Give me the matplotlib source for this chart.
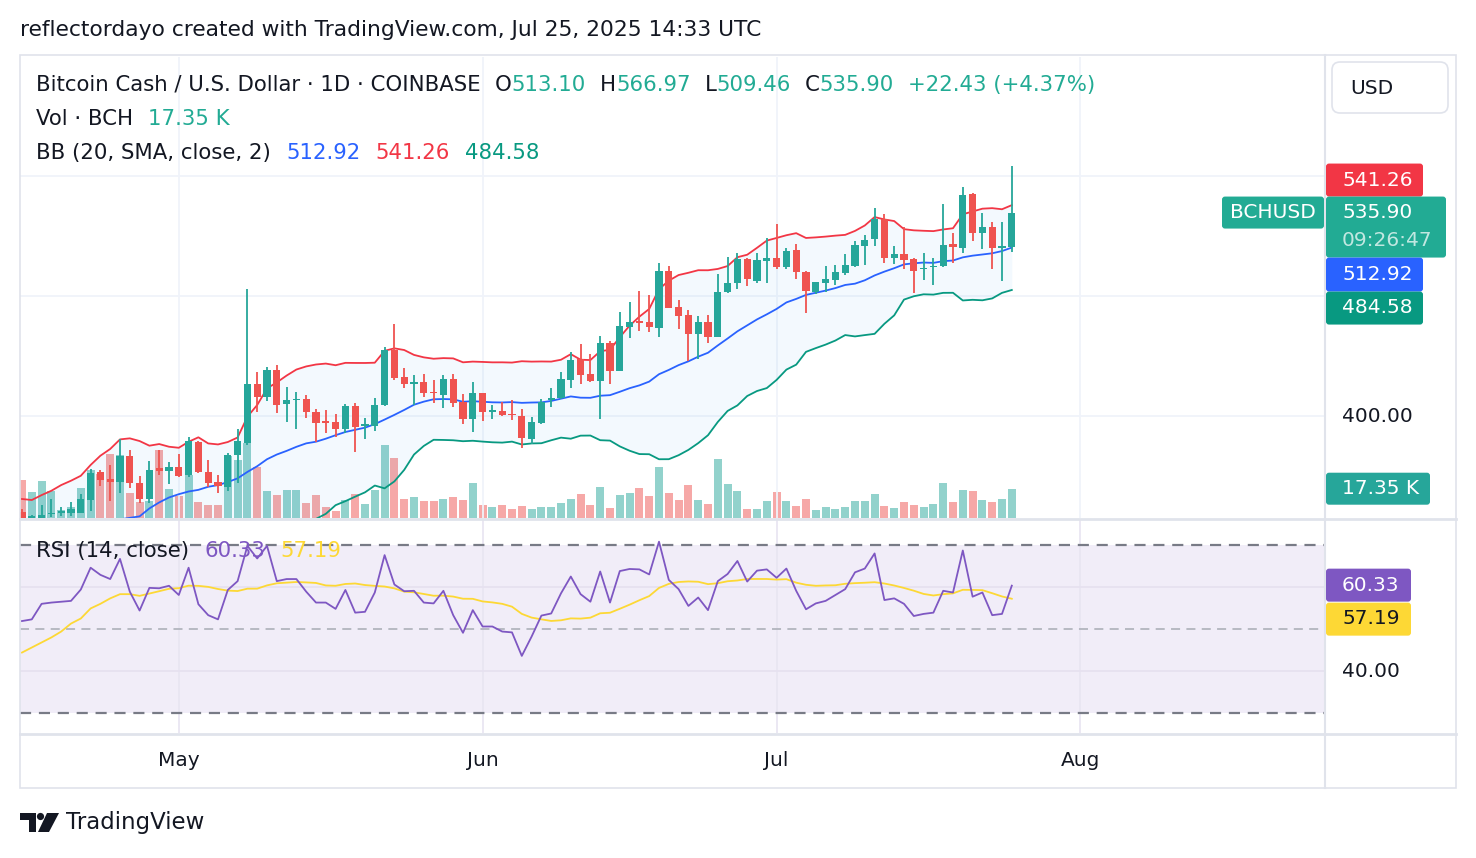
import matplotlib
matplotlib.use("Agg")
import matplotlib.pyplot as plt
from matplotlib.patches import FancyBboxPatch, Polygon, Circle
from matplotlib.colors import to_rgba
import numpy as np
import pandas as pd

W, H = 1476, 858

# ---- data (BCHUSD daily, Coinbase) ----
start = "2025-04-15"
opens = [336.0, 330.0, 332.0, 334.3, 335.0, 335.4, 335.4, 343.9, 362.4, 357.7,
         356.1, 373.3, 355.4, 344.8, 365.0, 363.5, 365.7, 360.6, 382.5, 362.4,
         356.1, 352.8, 373.9, 382.2, 421.4, 412.9, 430.7, 407.8, 410.7, 411.4,
         402.4, 396.7, 395.8, 391.5, 406.7, 393.6, 393.6, 407.3, 444.1, 426.1,
         421.4, 422.9, 416.2, 414.0, 424.5, 409.6, 398.2, 415.1, 403.0, 403.6,
         401.3, 400.0, 384.4, 395.5, 410.7, 411.8, 424.0, 438.1, 428.1, 423.6,
         449.0, 430.3, 459.7, 463.5, 463.0, 458.6, 496.9, 473.0, 467.5, 454.6,
         462.6, 453.0, 482.6, 488.6, 504.9, 490.4, 503.7, 505.3, 499.7, 510.6,
         496.0, 483.0, 489.0, 490.8, 495.7, 500.2, 513.8, 518.0, 531.6, 505.7,
         508.2, 504.9, 497.9, 499.3, 500.2, 515.0, 512.4, 548.3, 522.4, 526.0,
         512.0, 513.10]
highs = [338.0, 334.0, 340.5, 344.3, 339.4, 342.3, 347.6, 364.6, 363.9, 367.3,
         384.4, 377.3, 359.9, 369.9, 377.3, 369.0, 374.6, 386.2, 383.3, 370.6,
         360.6, 375.1, 391.1, 484.8, 429.4, 432.5, 434.1, 419.2, 415.8, 413.8,
         404.5, 404.0, 401.3, 407.8, 408.5, 398.4, 411.8, 445.9, 461.5, 431.8,
         427.4, 428.1, 424.0, 427.4, 428.1, 414.7, 422.9, 415.5, 407.3, 409.1,
         410.7, 404.5, 399.1, 411.1, 418.9, 429.6, 442.5, 447.9, 441.2, 453.7,
         450.1, 469.3, 476.0, 483.5, 480.8, 502.0, 500.2, 477.5, 470.8, 467.0,
         467.5, 494.6, 506.4, 509.1, 505.3, 508.7, 519.1, 528.0, 512.0, 514.7,
         496.9, 489.5, 500.2, 500.9, 508.2, 516.9, 520.9, 539.2, 534.9, 513.6,
         526.5, 505.7, 508.7, 505.7, 541.6, 522.0, 552.8, 548.8, 535.8, 529.4,
         529.8, 566.97]
lows = [328.0, 326.0, 331.0, 332.5, 333.0, 333.0, 335.0, 336.7, 353.2, 343.4,
        348.3, 352.0, 341.6, 341.6, 360.6, 354.6, 359.5, 359.0, 362.0, 352.8,
        348.8, 349.9, 355.5, 380.6, 402.9, 410.2, 402.2, 396.2, 391.5, 398.9,
        382.9, 388.4, 386.2, 388.9, 376.2, 384.4, 390.2, 407.0, 424.0, 418.9,
        407.3, 412.9, 408.5, 405.1, 405.8, 394.4, 389.5, 396.9, 397.8, 400.0,
        397.3, 378.4, 381.1, 394.4, 406.2, 411.5, 418.5, 421.2, 423.0, 397.8,
        421.2, 430.0, 451.9, 457.0, 456.3, 453.0, 472.0, 457.9, 436.7, 437.9,
        449.0, 452.5, 482.0, 484.6, 486.8, 489.0, 489.0, 498.2, 498.2, 491.3,
        469.0, 481.3, 483.0, 487.5, 494.2, 499.7, 500.9, 513.6, 502.4, 501.5,
        498.0, 482.4, 490.8, 487.5, 499.3, 502.0, 509.1, 517.1, 511.4, 498.2,
        490.4, 509.46]
closes = [331.0, 333.0, 334.0, 335.4, 336.7, 337.6, 344.3, 362.1, 357.2, 356.1,
          373.3, 355.0, 344.8, 363.9, 363.5, 366.1, 360.1, 383.3, 362.4, 355.4,
          353.2, 373.9, 383.3, 421.4, 412.9, 430.7, 407.3, 410.7, 411.4, 402.4,
          395.5, 395.1, 391.5, 406.7, 392.9, 394.7, 407.3, 444.1, 425.2, 421.2,
          422.9, 415.1, 415.1, 424.5, 408.9, 398.2, 415.1, 402.9, 404.0, 400.4,
          400.4, 385.1, 395.8, 409.1, 411.8, 424.7, 437.4, 427.4, 423.6, 449.0,
          430.3, 460.3, 463.0, 462.3, 459.2, 496.9, 472.4, 467.0, 454.6, 462.6,
          453.0, 482.6, 488.6, 504.9, 491.3, 504.2, 505.3, 499.7, 510.4, 496.0,
          483.7, 489.3, 491.5, 496.0, 500.9, 514.2, 517.6, 531.6, 505.7, 508.2,
          504.2, 497.1, 498.7, 500.4, 514.2, 512.7, 547.6, 522.4, 526.0, 512.0,
          513.47, 535.90]
volumes_k = [22.3, 15.2, 21.7, 15.8, 4.5, 6.3, 17.8, 28.2, 26.2, 37.9,
             37.5, 14.8, 9.5, 10.3, 40.1, 17.2, 12.8, 25.6, 9.5, 7.5,
             7.5, 36.5, 34.1, 44.4, 30.0, 15.8, 13.4, 16.4, 16.4, 8.9,
             13.4, 6.3, 3.9, 10.9, 14.4, 8.3, 16.4, 43.0, 35.5, 11.2,
             12.2, 9.9, 9.9, 11.2, 12.2, 10.5, 20.7, 7.5, 6.3, 7.5,
             5.1, 6.9, 5.1, 6.3, 6.3, 8.9, 11.4, 14.4, 7.5, 18.2,
             5.9, 13.4, 14.8, 17.8, 12.8, 30.0, 14.8, 10.5, 19.3, 10.5,
             8.3, 34.9, 20.1, 15.8, 5.3, 5.3, 9.9, 15.2, 9.9, 7.1,
             11.4, 4.7, 6.5, 5.5, 6.5, 10.1, 10.1, 14.4, 7.1, 5.9,
             9.5, 7.7, 6.5, 8.5, 20.9, 9.5, 16.6, 16.0, 10.7, 9.5,
             11.2, 17.35]
rsi = [51.9, 52.3, 56.0, 56.3, 56.5, 56.7, 59.4, 64.6, 62.9, 61.9,
       66.7, 58.9, 54.4, 59.8, 59.7, 60.3, 58.1, 64.6, 55.9, 53.3,
       52.3, 59.3, 61.4, 69.8, 66.8, 69.8, 61.4, 61.9, 61.9, 58.9,
       56.3, 56.3, 54.8, 59.3, 53.9, 54.1, 58.7, 67.6, 60.6, 59.0,
       59.1, 56.3, 56.1, 59.1, 53.3, 49.1, 54.5, 50.6, 50.6, 49.4,
       49.2, 43.6, 48.2, 53.2, 53.7, 58.5, 62.5, 58.3, 56.5, 63.7,
       56.3, 63.8, 64.3, 64.2, 63.0, 70.8, 61.7, 59.5, 55.5, 57.5,
       54.5, 61.4, 63.1, 66.2, 61.3, 63.9, 64.2, 62.2, 64.4, 59.1,
       54.7, 56.1, 56.7, 58.1, 59.5, 63.5, 64.4, 68.0, 56.9, 57.3,
       56.0, 53.1, 53.6, 53.9, 59.1, 58.7, 68.7, 57.7, 58.7, 53.3,
       53.6, 60.33]
# indicator values on the left edge (their look-back lies before the first bar)
rsi_ma_head = [44.4, 45.6, 46.8, 48.0, 49.4, 51.3, 52.5, 54.9, 56.0, 57.3, 58.3, 58.3, 57.9]
bb_upper_head = [344.6, 343.9, 347.2, 350.1, 353.9, 356.8, 360.1, 367.3, 373.5, 378.0,
                 384.4, 385.1, 383.3, 380.2, 381.3, 379.5, 378.8, 382.8, 385.8]
bb_mid_head = [318.0, 319.0, 320.0, 321.0, 322.0, 323.0, 324.0, 326.0, 328.0, 329.0,
               331.0, 332.0, 333.0, 338.3, 342.3, 345.6, 347.8, 349.6, 350.7]
# legend readouts
bb_last = {"basis": 512.92, "upper": 541.26, "lower": 484.58}
rsi_ma_last = 57.19
countdown = "09:26:47"
price_ticks = [400, 480, 560]
rsi_ticks = [40, 60]

UP, DOWN = "#26a69a", "#ef5350"
TEAL_TXT = "#22ab94"
BLACK = "#131722"
GRID = "#f0f3fa"
SEP = "#e0e3eb"

plt.rcParams["font.family"] = ["DejaVu Sans"]

n = len(closes)
x = np.arange(n)
o, hi, lo, c = (np.array(v) for v in (opens, highs, lows, closes))
cs = pd.Series(closes)
mid = cs.rolling(20).mean().to_numpy()
sd = cs.rolling(20).std(ddof=0).to_numpy()
upper = mid + 2 * sd
lower = mid - 2 * sd
k = len(bb_mid_head)
mid[:k] = bb_mid_head
upper[:k] = bb_upper_head
lower[:k] = 2 * np.array(bb_mid_head) - np.array(bb_upper_head)
rsi_ma = pd.Series(rsi).rolling(14).mean().to_numpy()
rsi_ma[:len(rsi_ma_head)] = rsi_ma_head

dates = pd.date_range(start, periods=n, freq="D")
months = pd.date_range("2025-05-01", "2025-08-01", freq="MS")
month_pos = [(m - dates[0]).days for m in months]


def frac(x0, y0, x1, y1):
    return [x0 / W, 1 - y1 / H, (x1 - x0) / W, (y1 - y0) / H]


fig = plt.figure(figsize=(W / 100, H / 100), dpi=100)
fig.patch.set_facecolor("white")

ax = fig.add_axes(frac(20, 57, 1325, 518))
axv = ax.twinx()
axr = fig.add_axes(frac(20, 519, 1325, 733))
ax.set_zorder(2)
axv.set_zorder(1)
ax.patch.set_visible(False)

xl = (-2 / 9.8, (1325 - 22) / 9.8)
for a in (ax, axv, axr):
    a.set_xlim(*xl)
    for s in a.spines.values():
        s.set_visible(False)
    a.set_xticks([])
    a.set_yticks([])

ax.set_ylim(331.9, 639.8)
axv.set_ylim(0, 273)
axr.set_ylim(25.24, 76.2)

# grid
for p in price_ticks:
    ax.axhline(p, color=GRID, lw=1.3, zorder=0)
for m in month_pos:
    ax.axvline(m, color=GRID, lw=1.3, zorder=0)
    axr.axvline(m, color="#e9e6f2", lw=1.3, zorder=1)

# volume
vcol = [to_rgba(UP if cc >= oo else DOWN, 0.5) for oo, cc in zip(opens, closes)]
axv.bar(x, volumes_k, width=0.82, color=vcol, linewidth=0)

# bollinger bands
ax.fill_between(x, lower, upper, color="#2196f3", alpha=0.05, lw=0, zorder=1)
ax.plot(x, upper, color="#f23645", lw=1.3, zorder=3)
ax.plot(x, mid, color="#2962ff", lw=1.3, zorder=3)
ax.plot(x, lower, color="#089981", lw=1.3, zorder=3)

# candles
col = np.where(c >= o, UP, DOWN)
ax.vlines(x, lo, hi, colors=col, lw=1.3, zorder=4)
ax.bar(x, np.maximum(np.abs(c - o), 1.0), bottom=np.minimum(o, c), width=0.72,
       color=col, linewidth=0, zorder=5)

# rsi pane
axr.axhspan(30, 70, color="#7e57c2", alpha=0.1, lw=0, zorder=0)
for t in rsi_ticks:
    axr.axhline(t, color="#e6e1f0", lw=1.3, zorder=1)
axr.axhline(70, color="#787b86", lw=1.6, ls=(0, (5, 3.5)), zorder=2)
axr.axhline(30, color="#787b86", lw=1.6, ls=(0, (5, 3.5)), zorder=2)
axr.axhline(50, color="#b2b5be", lw=1.3, ls=(0, (5, 3.5)), zorder=2)
axr.plot(x, rsi_ma, color="#fdd835", lw=1.3, zorder=3)
axr.plot(x, rsi, color="#7e57c2", lw=1.3, zorder=4)

# overlay in pixel coordinates, drawn above every pane
ov = fig.add_axes([0, 0, 1, 1])
ov.set_zorder(10)
ov.set_xlim(0, W)
ov.set_ylim(H, 0)
ov.axis("off")


def py(a, v):
    return H - a.transData.transform((0, v))[1]


def pxx(a, v):
    return a.transData.transform((v, 0))[0]


def tag(x0, x1, y0, y1, face, edge=None, r=3):
    ov.add_patch(FancyBboxPatch((x0, y0), x1 - x0, y1 - y0,
                                boxstyle=f"round,pad=0,rounding_size={r}",
                                fc=face, ec=edge if edge else face,
                                lw=1.2 if edge else 0, zorder=5))


def label(x0, y, s, color, size=14.5, **kw):
    return ov.text(x0, y, s, fontsize=size, color=color, va="center", zorder=6, **kw)


# frame and separators
ov.add_patch(FancyBboxPatch((20, 55), 1436, 733, boxstyle="square,pad=0",
                            fc="none", ec=SEP, lw=1.2))
ov.plot([20, 1456], [518.5, 518.5], color=SEP, lw=2)
ov.plot([20, 1456], [733.5, 733.5], color=SEP, lw=2)
ov.plot([1325, 1325], [55, 788], color=SEP, lw=1.5)

rnd = fig.canvas.get_renderer()
LEG = 15.3


def seq(x0, y, parts, size=LEG):
    for s, color, gap in parts:
        t = label(x0, y, s, color, size, ha="left")
        x0 += t.get_window_extent(renderer=rnd).width + gap


label(20, 30, "reflectordayo created with TradingView.com, Jul 25, 2025 14:33 UTC",
      BLACK, 15.7, ha="left")

last_o, last_h, last_l, last_c = opens[-1], highs[-1], lows[-1], closes[-1]
chg = last_c - closes[-2]
pct = chg / closes[-2] * 100
g = 14
seq(36, 85, [("Bitcoin Cash / U.S. Dollar · 1D · COINBASE", BLACK, g),
             ("O", BLACK, 0), (f"{last_o:.2f}", TEAL_TXT, g),
             ("H", BLACK, 0), (f"{last_h:.2f}", TEAL_TXT, g),
             ("L", BLACK, 0), (f"{last_l:.2f}", TEAL_TXT, g),
             ("C", BLACK, 0), (f"{last_c:.2f}", TEAL_TXT, g),
             (f"{chg:+.2f} ({pct:+.2f}%)", TEAL_TXT, 0)])
seq(36, 119, [("Vol · BCH", BLACK, 15), (f"{volumes_k[-1]:.2f} K", TEAL_TXT, 0)])
seq(36, 153, [("BB (20, SMA, close, 2)", BLACK, 15),
              (f"{bb_last['basis']:.2f}", "#2962ff", 15),
              (f"{bb_last['upper']:.2f}", "#f23645", 15),
              (f"{bb_last['lower']:.2f}", "#089981", 0)])
seq(36, 551, [("RSI (14, close)", BLACK, 15), (f"{rsi[-1]:.2f}", "#7e57c2", 15),
              (f"{rsi_ma_last:.2f}", "#fdd835", 0)])

# right scale
tag(1332, 1448, 62, 113, "white", edge=SEP, r=8)
label(1350, 88, "USD", BLACK)

yc = py(ax, last_c)
tag(1326, 1423, yc - 49, yc - 16, "#f23645")
label(1342, yc - 32, f"{bb_last['upper']:.2f}", "white")
tag(1326, 1446, yc - 16, yc + 45, TEAL_TXT)
label(1342, yc, f"{last_c:.2f}", "white")
label(1342, yc + 28, countdown, (1, 1, 1, 0.72))
tag(1222, 1324, yc - 16, yc + 16, TEAL_TXT)
label(1273, yc, "BCHUSD", "white", ha="center")
tag(1326, 1423, yc + 45, yc + 79, "#2962ff")
label(1342, yc + 62, f"{bb_last['basis']:.2f}", "white")
tag(1326, 1423, yc + 79, yc + 112, "#089981")
label(1342, yc + 95, f"{bb_last['lower']:.2f}", "white")

label(1342, py(ax, price_ticks[0]), f"{price_ticks[0]:.2f}", BLACK)

yv = py(axv, volumes_k[-1])
tag(1326, 1430, yv - 16, yv + 16, UP)
label(1342, yv, f"{volumes_k[-1]:.2f} K", "white")

yr = py(axr, rsi[-1])
tag(1326, 1411, yr - 17, yr + 16, "#7e57c2")
label(1342, yr, f"{rsi[-1]:.2f}", "white")
tag(1326, 1411, yr + 17, yr + 50, "#fdd835")
label(1342, yr + 33, f"{rsi_ma_last:.2f}", BLACK)
label(1342, py(axr, rsi_ticks[0]), f"{rsi_ticks[0]:.2f}", BLACK)

# time axis
for m, d in zip(month_pos, months):
    label(pxx(ax, m), 761, d.strftime("%b"), BLACK, ha="center")

# TradingView mark
ov.add_patch(Polygon([(20, 813), (36, 813), (36, 832), (29, 832), (29, 820), (20, 820)],
                     closed=True, fc=BLACK, ec="none"))
ov.add_patch(Circle((40.5, 816.5), 3.6, fc=BLACK, ec="none"))
ov.add_patch(Polygon([(47, 813), (59, 813), (49, 832), (38, 832)], closed=True,
                     fc=BLACK, ec="none"))
label(66, 822, "TradingView", BLACK, 16.5, ha="left")

fig.savefig("out.png", dpi=100, facecolor="white")
